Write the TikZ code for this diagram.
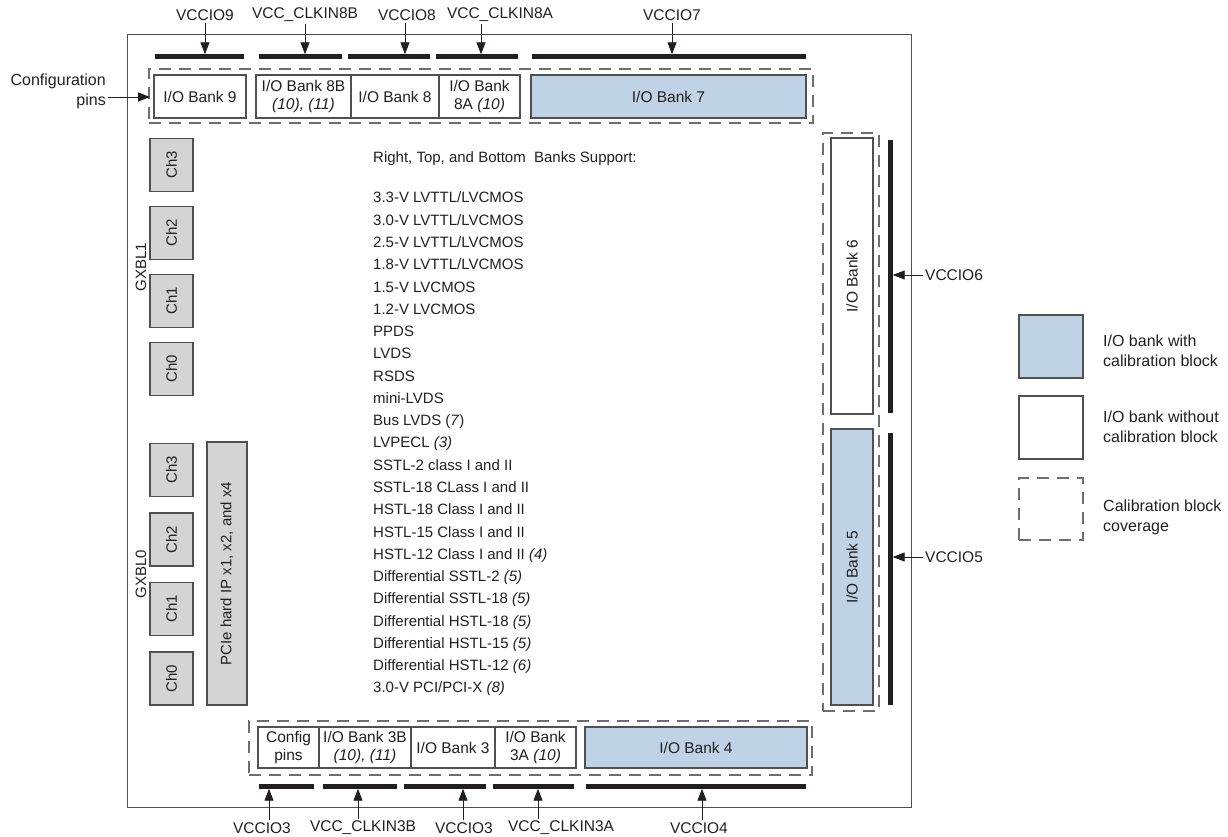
\documentclass[tikz,border=0pt]{standalone}
\usepackage{fontspec}
\setmainfont{Liberation Sans}
\usetikzlibrary{arrows.meta}

\definecolor{calblue}{RGB}{192,210,230}
\definecolor{chgray}{RGB}{212,212,212}
\definecolor{ink}{RGB}{35,31,32}
\definecolor{edge}{RGB}{80,80,80}
\definecolor{dashgray}{RGB}{110,110,110}

\begin{document}
\begin{tikzpicture}[x=1pt, y=-1pt, >={Triangle[length=12pt,width=9pt]}, font=\fontsize{15}{18}\selectfont]

    % Styles
    \tikzset{
        bank/.style={draw=edge, line width=1.1pt, fill=white, text=ink, inner sep=0pt, align=center, font=\fontsize{15.5}{18}\selectfont},
        calbank/.style={bank, fill=calblue},
        chbox/.style={draw=edge, line width=1.1pt, fill=chgray, text=ink, inner sep=0pt, rotate=90, minimum width=53pt, minimum height=43pt},
        calzone/.style={draw=dashgray, line width=1.1pt, dash pattern=on 12pt off 8pt, inner sep=0pt},
        bar/.style={fill=ink, inner sep=0pt},
        vlabel/.style={text=ink, inner sep=2pt, font=\fontsize{15.5}{18}\selectfont},
        keytext/.style={text=ink, anchor=west, align=left, inner sep=0pt, font=\fontsize{16}{20}\selectfont},
        feed/.style={->, draw=ink, line width=0.9pt}
    }

    \useasboundingbox (0,0) rectangle (1228,837);

    % Chip outline
    \node[draw=edge, line width=1pt, inner sep=0pt, minimum width=784pt, minimum height=772pt] (chip) at (519,421) {};

    % --- Top banks ---
    \node[calzone, minimum width=664pt, minimum height=54pt] (caltop) at (481,96) {};
    \node[bank, minimum width=92pt, minimum height=43pt] (b9) at (200,96.5) {I/O Bank 9};
    \node[bank, minimum width=95pt, minimum height=43pt] (b8b) at (303.5,96.5) {I/O Bank 8B\\\textit{(10), (11)}};
    \node[bank, minimum width=88pt, minimum height=43pt] (b8) at (395,96.5) {I/O Bank 8};
    \node[bank, minimum width=81pt, minimum height=43pt] (b8a) at (479.5,96.5) {I/O Bank\\8A \textit{(10)}};
    \node[calbank, minimum width=275pt, minimum height=43pt] (b7) at (668.5,96.5) {I/O Bank 7};

    % VCCIO rails (top)
    \node[bar, minimum width=89pt, minimum height=5pt] (v9) at (199.5,57) {};
    \node[bar, minimum width=83pt, minimum height=5pt] (v8b) at (300.5,57) {};
    \node[bar, minimum width=82pt, minimum height=5pt] (v8) at (389,57) {};
    \node[bar, minimum width=82pt, minimum height=5pt] (v8a) at (477,57) {};
    \node[bar, minimum width=274pt, minimum height=5pt] (v7) at (669,57) {};

    \node[vlabel] (l9) at (205,15) {VCCIO9};
    \node[vlabel] (l8b) at (305,15) {VCC\_CLKIN8B};
    \node[vlabel] (l8) at (407,15) {VCCIO8};
    \node[vlabel] (l8a) at (500,15) {VCC\_CLKIN8A};
    \node[vlabel] (l7) at (672,15) {VCCIO7};
    \foreach \l/\b/\dx in {l9/v9/0, l8b/v8b/0, l8/v8/-2, l8a/v8a/-19, l7/v7/0}
        \draw[feed] ([xshift=\dx pt]\l.south) -- ([xshift=\dx pt]\l.south |- \b.north);

    % Configuration pins
    \node[vlabel, align=right, anchor=east, font=\fontsize{16}{20}\selectfont] (cfg) at (108,91) {Configuration\\pins};
    \coordinate (cfgin) at (150,97);
    \draw[feed] (cfg.east |- cfgin) -- (cfgin);

    % --- Transceiver blocks (left) ---
    \foreach \n/\y in {3/165, 2/233, 1/301, 0/369}
        \node[chbox] (gxbl1c\n) at (171.5,\y) {Ch\n};
    \foreach \n/\y in {3/470, 2/539.5, 1/609, 0/678.5}
        \node[chbox] (gxbl0c\n) at (171.5,\y) {Ch\n};
    \node[text=ink, rotate=90] (gxbl1) at (141,267) {GXBL1};
    \node[text=ink, rotate=90] (gxbl0) at (141,574) {GXBL0};
    \node[chbox, minimum width=263pt, minimum height=40pt] (pcie) at (227,573.5) {PCIe hard IP x1, x2, and x4};

    % --- Supported standards ---
    \node[text=ink, anchor=base west, inner sep=0pt] (suphead) at (373,163) {Right, Top, and Bottom\ \ Banks Support:};
    \foreach \s [count=\i from 0] in {3.3-V LVTTL/LVCMOS, 3.0-V LVTTL/LVCMOS, 2.5-V LVTTL/LVCMOS, 1.8-V LVTTL/LVCMOS,
        1.5-V LVCMOS, 1.2-V LVCMOS, PPDS, LVDS, RSDS, mini-LVDS, Bus LVDS (\textit{7}), LVPECL \textit{(3)},
        SSTL-2 class I and II, SSTL-18 CLass I and II, HSTL-18 Class I and II, HSTL-15 Class I and II,
        HSTL-12 Class I and II \textit{(4)}, Differential SSTL-2 \textit{(5)}, Differential SSTL-18 \textit{(5)},
        Differential HSTL-18 \textit{(5)}, Differential HSTL-15 \textit{(5)}, Differential HSTL-12 \textit{(6)},
        3.0-V PCI/PCI-X \textit{(8)}}
        \node[text=ink, anchor=base west, inner sep=0pt] (std\i) at (373,{203+22.27*\i}) {\s};

    % --- Right banks ---
    \node[calzone, minimum width=56pt, minimum height=578pt] (calright) at (851,422) {};
    \node[bank, rotate=90, minimum width=276pt, minimum height=42pt] (b6) at (852,276) {I/O Bank 6};
    \node[calbank, rotate=90, minimum width=276pt, minimum height=42pt] (b5) at (852,567) {I/O Bank 5};
    \node[bar, minimum width=5pt, minimum height=273pt] (v6) at (890,276.5) {};
    \node[bar, minimum width=5pt, minimum height=272pt] (v5) at (890,569) {};
    \node[vlabel, anchor=west] (l6) at (923,275) {VCCIO6};
    \node[vlabel, anchor=west] (l5) at (923,557) {VCCIO5};
    \draw[feed] (l6.west) -- (l6.west -| v6.east);
    \draw[feed] (l5.west) -- (l5.west -| v5.east);

    % --- Bottom banks ---
    \node[calzone, minimum width=563pt, minimum height=54pt] (calbot) at (530.5,748) {};
    \node[bank, minimum width=61pt, minimum height=41pt] (cfgb) at (288.5,747.5) {Config\\pins};
    \node[bank, minimum width=92pt, minimum height=41pt] (b3b) at (365,747.5) {I/O Bank 3B\\\textit{(10), (11)}};
    \node[bank, minimum width=84pt, minimum height=41pt] (b3) at (453,747.5) {I/O Bank 3};
    \node[bank, minimum width=81pt, minimum height=41pt] (b3a) at (535.5,747.5) {I/O Bank\\3A \textit{(10)}};
    \node[calbank, minimum width=222pt, minimum height=41pt] (b4) at (696,747.5) {I/O Bank 4};

    % VCCIO rails (bottom)
    \node[bar, minimum width=55pt, minimum height=5pt] (v3l) at (286.5,786) {};
    \node[bar, minimum width=74pt, minimum height=5pt] (v3b) at (360,786) {};
    \node[bar, minimum width=82pt, minimum height=5pt] (v3) at (445,786) {};
    \node[bar, minimum width=81pt, minimum height=5pt] (v3a) at (533.5,786) {};
    \node[bar, minimum width=220pt, minimum height=5pt] (v4) at (696,786) {};

    \node[vlabel] (l3l) at (262,828) {VCCIO3};
    \node[vlabel] (l3b) at (363,828) {VCC\_CLKIN3B};
    \node[vlabel] (l3) at (464,828) {VCCIO3};
    \node[vlabel] (l3a) at (561,828) {VCC\_CLKIN3A};
    \node[vlabel] (l4) at (699,828) {VCCIO4};
    \foreach \l/\b/\dx in {l3l/v3l/7, l3b/v3b/-5, l3/v3/-1, l3a/v3a/-23, l4/v4/3}
        \draw[feed] ([xshift=\dx pt]\l.north) -- ([xshift=\dx pt]\l.north |- \b.south);

    % --- Legend ---
    \node[calbank, minimum width=64pt, minimum height=63pt] (keycal) at (1051,346.5) {};
    \node[bank, minimum width=64pt, minimum height=63pt] (keyplain) at (1051,427.5) {};
    \node[calzone, minimum width=64pt, minimum height=62pt] (keyzone) at (1051,509) {};
    \node[keytext] (keycaltxt) at (1103,351) {I/O bank with\\calibration block};
    \node[keytext] (keyplaintxt) at (1103,427) {I/O bank without\\calibration block};
    \node[keytext] (keyzonetxt) at (1103,517) {Calibration block\\coverage};

\end{tikzpicture}
\end{document}
